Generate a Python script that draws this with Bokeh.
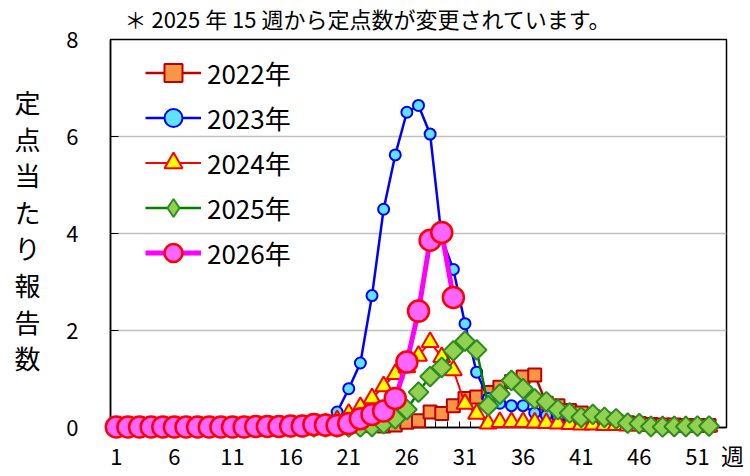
import numpy as np
from bokeh.plotting import figure
from bokeh.models import Range1d, FixedTicker, Legend, LegendItem
from bokeh.core.properties import value
from bokeh.embed import file_html
from bokeh.resources import INLINE

# ---------------- data ----------------
weeks = list(range(1, 53))
weeks_2026 = list(range(1, 31))
tick_weeks = [1, 6, 11, 16, 21, 26, 31, 36, 41, 46, 51]
y_ticks = [0, 2, 4, 6, 8]

y2022 = [0.02, 0.02, 0.01, 0.01, 0.02, 0.01, 0.01, 0.01, 0.02, 0.01, 0.01, 0.01, 0.02, 0.02, 0.01,
         0.02, 0.02, 0.03, 0.02, 0.03, 0.03, 0.04,
         0.04, 0.03, 0.05, 0.11, 0.14, 0.32, 0.29, 0.45, 0.60, 0.63,
         0.72, 0.83, 0.95, 1.04, 1.08, 0.50, 0.45, 0.35,
         0.30, 0.22, 0.17, 0.13, 0.10, 0.08, 0.06, 0.05, 0.05, 0.04, 0.04, 0.04]
y2023 = [0.03, 0.02, 0.02, 0.02, 0.02, 0.02, 0.01, 0.01, 0.02, 0.02, 0.02, 0.02, 0.03, 0.03, 0.04,
         0.05, 0.06, 0.08, 0.12,
         0.32, 0.80, 1.33, 2.72, 4.50, 5.62, 6.50, 6.64, 6.05, 3.90, 3.26, 2.14, 1.14,
         0.60, 0.50, 0.45, 0.45, 0.30, 0.25, 0.20, 0.15, 0.12, 0.10, 0.08, 0.07,
         0.06, 0.05, 0.05, 0.04, 0.04, 0.03, 0.03, 0.03]
y2024 = [0.02, 0.02, 0.02, 0.01, 0.01, 0.01, 0.01, 0.01, 0.01, 0.02, 0.02, 0.02, 0.02, 0.03, 0.03,
         0.04, 0.05, 0.06, 0.08,
         0.15, 0.28, 0.42, 0.60, 0.85, 1.10, 1.24, 1.48, 1.76, 1.45, 1.18, 0.49, 0.28,
         0.08, 0.11, 0.11, 0.11, 0.10, 0.09, 0.08, 0.07, 0.06, 0.06, 0.05, 0.05, 0.04, 0.04,
         0.03, 0.03, 0.03, 0.03, 0.02, 0.02]
y2025 = [0.02, 0.02, 0.01, 0.01, 0.01, 0.01, 0.01, 0.01, 0.01, 0.01, 0.01, 0.01, 0.01, 0.01, 0.01,
         0.01, 0.01, 0.01, 0.01, 0.01, 0.01, 0.01,
         0.02, 0.08, 0.18, 0.37, 0.73, 1.05, 1.24, 1.58, 1.78, 1.60,
         0.45, 0.69, 0.97, 0.80, 0.59, 0.53, 0.37, 0.30, 0.21, 0.27, 0.21, 0.18, 0.09, 0.08,
         0.02, 0.01, 0.02, 0.02, 0.03, 0.03]
y2026 = [0.01, 0.01, 0.01, 0.01, 0.01, 0.01, 0.01, 0.01, 0.01, 0.01, 0.01, 0.01, 0.02, 0.02, 0.02,
         0.03, 0.03, 0.06, 0.05, 0.04, 0.08, 0.18, 0.27, 0.34, 0.60, 1.35, 2.40, 3.86, 4.02, 2.68]

labels = ["2022年", "2023年", "2024年", "2025年", "2026年"]
title_text = "＊ 2025 年 15 週から定点数が変更されています。"
ylabel_chars = ["定", "点", "当", "た", "り", "報", "告", "数"]
week_unit = "週"

FONT = "Noto Sans CJK JP"
X0, X1 = 0.5, 53.5
Y0, Y1 = 0, 8

# ---------------- figure ----------------
p = figure(width=750, height=476, output_backend="svg", toolbar_location=None,
           x_range=Range1d(X0, X1), y_range=Range1d(Y0, Y1),
           min_border_left=110, min_border_right=24, min_border_top=39, min_border_bottom=49)
p.background_fill_color = "white"
p.border_fill_color = "white"
p.outline_line_color = "black"
p.outline_line_width = 1.5

p.xgrid.visible = False
p.ygrid.ticker = FixedTicker(ticks=y_ticks)
p.ygrid.grid_line_color = "#c0c0c0"
p.ygrid.grid_line_width = 1.5

p.xaxis.ticker = FixedTicker(ticks=tick_weeks, minor_ticks=[w + 0.5 for w in range(0, 53)])
p.xaxis.major_tick_in = 0
p.xaxis.major_tick_out = 0
p.xaxis.minor_tick_in = 6
p.xaxis.minor_tick_out = 0
p.xaxis.minor_tick_line_color = "black"
p.xaxis.axis_line_color = "black"
p.xaxis.axis_line_width = 1.5
p.xaxis.major_label_text_font = FONT
p.xaxis.major_label_text_font_size = "22px"
p.xaxis.major_label_text_color = "black"
p.xaxis.major_label_standoff = 21

p.yaxis.ticker = FixedTicker(ticks=y_ticks, minor_ticks=[])
p.yaxis.major_tick_in = 8
p.yaxis.major_tick_out = 0
p.yaxis.minor_tick_in = 0
p.yaxis.minor_tick_out = 0
p.yaxis.axis_line_color = "black"
p.yaxis.axis_line_width = 1.5
p.yaxis.major_label_text_font = FONT
p.yaxis.major_label_text_font_size = "22px"
p.yaxis.major_label_text_color = "black"
p.yaxis.major_label_standoff = 32

# ---------------- series ----------------
l22 = p.line(weeks, y2022, line_color="#C00000", line_width=2.5, level="overlay")
s22 = p.scatter(weeks, y2022, marker="square", size=13, fill_color="#F79646",
                line_color="#C00000", line_width=2, level="overlay")
l23 = p.line(weeks, y2023, line_color="#0000FF", line_width=2.5, level="overlay")
s23 = p.scatter(weeks, y2023, marker="circle", size=11, fill_color="#5FE3FF",
                line_color="#0000FF", line_width=2, level="overlay")
l24 = p.line(weeks, y2024, line_color="#FF0000", line_width=2, level="overlay")
s24 = p.scatter(weeks, y2024, marker="triangle", size=17, fill_color="#FFFF00",
                line_color="#FF0000", line_width=2, level="overlay")
l25 = p.line(weeks, y2025, line_color="#008000", line_width=2.5, level="overlay")
s25 = p.scatter(weeks, y2025, marker="square", size=14, angle=np.pi / 4, fill_color="#92D050",
                line_color="#2E8B22", line_width=2, level="overlay")
# legend-only proxy glyph for the 2025 diamond (nothing drawn in the plot)
s25_leg = p.scatter(x=[np.nan], y=[np.nan], marker="diamond", size=20, fill_color="#92D050",
                    line_color="#2E8B22", line_width=2, level="overlay")
l26 = p.line(weeks_2026, y2026, line_color="#FF00FF", line_width=5, level="overlay")
s26 = p.scatter(weeks_2026, y2026, marker="circle", size=21, fill_color="#FF66FF",
                line_color="#FF0000", line_width=2.5, level="overlay")

legend = Legend(items=[
    LegendItem(label=labels[0], renderers=[l22, s22]),
    LegendItem(label=labels[1], renderers=[l23, s23]),
    LegendItem(label=labels[2], renderers=[l24, s24]),
    LegendItem(label=labels[3], renderers=[l25, s25_leg]),
    LegendItem(label=labels[4], renderers=[l26, s26]),
], location=(35, 152))
legend.margin = 0
legend.padding = 0
legend.spacing = 0
legend.glyph_width = 56
legend.glyph_height = 45
legend.label_height = 45
legend.label_standoff = 6
legend.label_text_font = FONT
legend.label_text_font_size = "26px"
legend.label_text_color = "black"
legend.border_line_color = None
legend.background_fill_alpha = 0
p.add_layout(legend)

# ---------------- texts outside the frame (anchored at frame corner, offset in px) ----------------
FL, FB = 110, 427  # frame left / bottom in page pixels


def outside_text(texts, page_xs, page_ys, size, align="center"):
    n = len(texts)
    p.text(x=[X0] * n, y=[Y0] * n, text=texts,
           x_offset=[px - FL for px in page_xs], y_offset=[py - FB for py in page_ys],
           text_font=value(FONT), text_font_size=value(size), text_color="black",
           text_align=align, text_baseline="middle", level="overlay")


outside_text([title_text], [124], [17], "22px", align="left")
outside_text(ylabel_chars, [27] * len(ylabel_chars),
             [101 + i * 36.6 for i in range(len(ylabel_chars))], "26px")
outside_text([week_unit], [732], [454], "23px")

open("out.html", "w").write(file_html(p, INLINE))
